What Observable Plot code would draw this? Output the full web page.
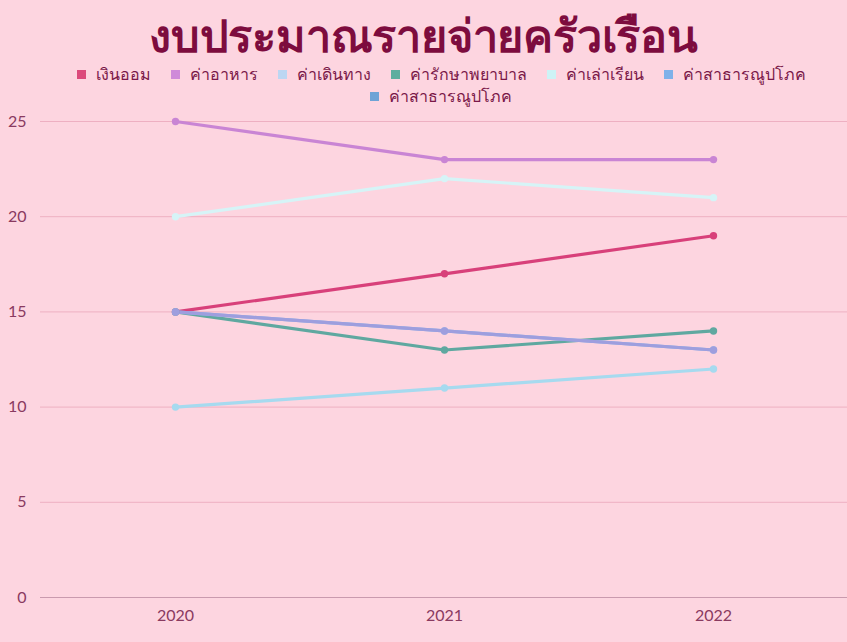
<!DOCTYPE html>
<html><head><meta charset="utf-8">
<script src="https://cdn.jsdelivr.net/npm/d3@7"></script>
<script src="https://cdn.jsdelivr.net/npm/@observablehq/plot@0.6"></script>
<style>
html,body{margin:0;padding:0;background:#fdd5e0;width:847px;height:642px;overflow:hidden;font-family:"Noto Sans","Noto Sans CJK SC",sans-serif;}
#title{position:absolute;left:0;top:12px;width:847px;height:46px;line-height:46px;text-align:center;font-size:45px;font-weight:900;color:#7d0c3e;letter-spacing:-0.2px;}
#legend{position:absolute;top:63px;left:51px;width:780px;display:flex;flex-wrap:wrap;justify-content:center;font-size:16px;color:#7a1848;line-height:22px;}
#legend .it{display:flex;align-items:center;margin:0 10px;}
#legend .sw{width:9px;height:9px;margin-right:10px;}
#chart{position:absolute;left:0;top:105px;}
</style></head><body>
<div id="title">งบประมาณรายจ่ายครัวเรือน</div>
<div id="legend"></div>
<div id="chart"></div>
<script>
const years = ["2020","2021","2022"];
const seriesNames = ["เงินออม","ค่าอาหาร","ค่าเดินทาง","ค่ารักษาพยาบาล","ค่าเล่าเรียน","ค่าสาธารณูปโภค","ค่าสาธารณูปโภค "];
const savings = [15,17,19];
const food = [25,23,23];
const travel = [10,11,12];
const medical = [15,13,14];
const tuition = [20,22,21];
const utilities = [15,14,13];
const utilities2 = [15,14,13];
const swatchColors = ["#dc4a7c","#cf8ad9","#bcd6f2","#5fae9f","#cdf3f6","#7fb1e9","#6ea3d6"];
const lineColors = ["#d8407a","#c985d4","#a6daef","#5fa8a0","#d6f4f7","#8fb6e8","#9e9ede"];

const seriesValues = [savings,food,travel,medical,tuition,utilities,utilities2];
const data = [];
seriesNames.forEach((n,i)=>years.forEach((y,j)=>data.push({series:n,year:y,value:seriesValues[i][j]})));

const leg = document.getElementById("legend");
seriesNames.forEach((n,i)=>{
  const d=document.createElement("div");d.className="it";
  d.innerHTML=`<span class="sw" style="background:${swatchColors[i]}"></span><span>${n.trim()}</span>`;
  leg.appendChild(d);
});

const chart = Plot.plot({
  width:847,height:537,
  marginLeft:40,marginRight:0,marginTop:16,marginBottom:45,
  style:{background:"transparent",fontFamily:"Lato, 'Noto Sans', sans-serif",fontSize:"16px",color:"#8a3a60"},
  x:{type:"point",domain:years,padding:0.5,label:null,tickSize:0,tickPadding:12},
  y:{domain:[0,25],ticks:[0,5,10,15,20,25],label:null,tickSize:0,tickPadding:14},
  color:{domain:seriesNames,range:lineColors},
  marks:[
    Plot.ruleY([5,10,15,20,25],{stroke:"#eeb0c2",strokeWidth:1}),
    Plot.ruleY([0],{stroke:"#c99aae",strokeWidth:1.2}),
    Plot.line(data,{x:"year",y:"value",z:"series",stroke:"series",strokeWidth:3.2}),
    Plot.dot(data,{x:"year",y:"value",fill:"series",r:3.7})
  ]
});
document.getElementById("chart").appendChild(chart);
</script>
</body></html>
